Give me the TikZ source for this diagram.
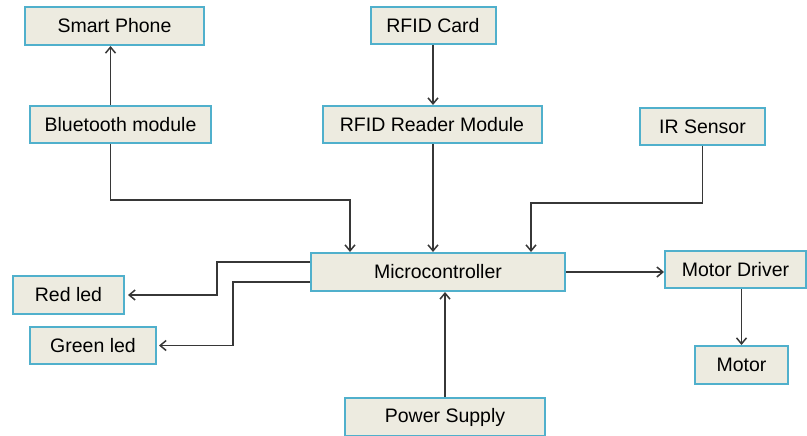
\documentclass[tikz,border=0pt]{standalone}
\usepackage{fontspec}
\setmainfont{Liberation Sans}
\usetikzlibrary{arrows.meta}
\definecolor{boxfill}{RGB}{237,235,224}
\definecolor{boxline}{RGB}{80,176,204}
\definecolor{wire}{RGB}{55,55,55}
\tikzset{
  blockbox/.style={draw=boxline, line width=2pt, fill=boxfill, inner sep=0pt,
    text=black, font=\fontsize{19.5}{22}\selectfont},
  link/.style={draw=wire, line width=1.5pt, -{Straight Barb[length=6pt,width=10pt]}}
}
\begin{document}
\begin{tikzpicture}[x=1pt,y=-1pt]
  \useasboundingbox (0,0) rectangle (807,436);
  % blocks
  \node[blockbox, minimum width=179pt, minimum height=38pt] (phone) at (114.5,26) {Smart Phone};
  \node[blockbox, minimum width=125pt, minimum height=37pt] (card) at (433,25.5) {RFID Card};
  \node[blockbox, minimum width=181pt, minimum height=37pt] (blue) at (120.5,124.5) {Bluetooth module};
  \node[blockbox, minimum width=219pt, minimum height=37pt] (reader) at (432,124.5) {RFID Reader Module};
  \node[blockbox, minimum width=125pt, minimum height=37pt] (ir) at (702.5,126.5) {IR Sensor};
  \node[blockbox, minimum width=254pt, minimum height=38pt] (micro) at (438,272) {Microcontroller};
  \node[blockbox, minimum width=111pt, minimum height=38pt] (red) at (68.5,295) {Red led};
  \node[blockbox, minimum width=126pt, minimum height=37pt] (green) at (93,345.5) {Green led};
  \node[blockbox, minimum width=141pt, minimum height=37pt] (driver) at (735.5,269.5) {Motor Driver};
  \node[blockbox, minimum width=93pt, minimum height=38pt] (motor) at (741.5,365) {Motor};
  \node[blockbox, minimum width=200pt, minimum height=38pt] (power) at (445,417) {Power Supply};
  % connectors
  \draw[link] ([xshift=-10pt]blue.north) -- ([xshift=-10pt]blue.north |- phone.south);
  \draw[link] (card.south) -- (card.south |- reader.north);
  \draw[link] ([xshift=1pt]reader.south) -- ([xshift=1pt]reader.south |- micro.north);
  \draw[link] ([xshift=-10pt]blue.south) -- ++(0,56) -| ([xshift=-88pt]micro.north);
  \draw[link] (ir.south) -- ++(0,57) -| ([xshift=93pt]micro.north);
  \draw[link] ([yshift=10pt]micro.west) -- ++(-93,0) |- ([xshift=3pt]red.east);
  \draw[link] ([yshift=-10pt]micro.west) -- ++(-77,0) |- ([xshift=2pt]green.east);
  \draw[link] (micro.east) -- (micro.east -| driver.west);
  \draw[link] (motor.north |- driver.south) -- (motor.north);
  \draw[link] (power.north) -- (power.north |- micro.south);
\end{tikzpicture}
\end{document}
